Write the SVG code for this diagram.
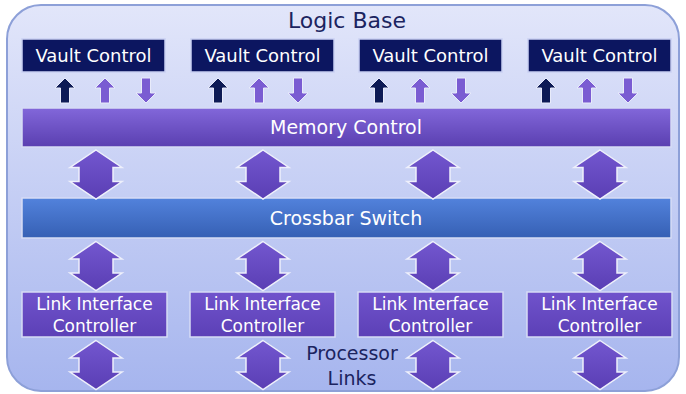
<svg xmlns="http://www.w3.org/2000/svg" width="686" height="394" viewBox="0 0 686 394">
<defs>
<linearGradient id="bg" x1="0" y1="0" x2="0" y2="1">
<stop offset="0" stop-color="#e2e6fa"/>
<stop offset="1" stop-color="#a6b5ee"/>
</linearGradient>
<linearGradient id="mem" x1="0" y1="0" x2="0" y2="1">
<stop offset="0" stop-color="#8267da"/>
<stop offset="1" stop-color="#5a3fb0"/>
</linearGradient>
<linearGradient id="xbar" x1="0" y1="0" x2="0" y2="1">
<stop offset="0" stop-color="#5282dc"/>
<stop offset="1" stop-color="#3660b4"/>
</linearGradient>
<linearGradient id="lic" x1="0" y1="0" x2="0" y2="1">
<stop offset="0" stop-color="#7053cc"/>
<stop offset="1" stop-color="#5c40b6"/>
</linearGradient>
<linearGradient id="dbl" x1="0" y1="0" x2="0" y2="1">
<stop offset="0" stop-color="#7357cf"/>
<stop offset="1" stop-color="#5a3eb4"/>
</linearGradient>
<path id="dArrow" d="M0,-24.5 L26,-7 L17,-7 L17,7 L26,7 L0,24.5 L-26,7 L-17,7 L-17,-7 L-26,-7 Z"/>
<path id="upArrow" d="M0,0 L10,10 L4.5,10 L4.5,25 L-4.5,25 L-4.5,10 L-10,10 Z"/>
<path id="downArrow" d="M0,25 L10,15 L4.5,15 L4.5,0 L-4.5,0 L-4.5,15 L-10,15 Z"/>
</defs>
<style>
.vault{fill:#0c1660;stroke:#c9d0f2;stroke-width:1.5}
.vtxt{font-family:"DejaVu Sans",Verdana,sans-serif;font-size:18px;fill:#ffffff;text-anchor:middle}
.bar{stroke:#d6dcf5;stroke-width:1.5}
.btxt{font-family:"DejaVu Sans",Verdana,sans-serif;font-size:19px;fill:#ffffff;text-anchor:middle}
.licbox{fill:url(#lic);stroke:#d6dcf5;stroke-width:1.5}
.ltxt{font-family:"DejaVu Sans",Verdana,sans-serif;font-size:17px;fill:#ffffff;text-anchor:middle}
.dark{fill:#0d1a55;stroke:#e8ebfa;stroke-width:1}
.purp{fill:#7a5cd2;stroke:#e8ebfa;stroke-width:1}
.dbl{fill:url(#dbl);stroke:#eef0fb;stroke-width:1.5;stroke-linejoin:miter}
.title{font-family:"DejaVu Sans",Verdana,sans-serif;font-size:22px;fill:#1b2460;text-anchor:middle}
</style>
<rect x="0" y="0" width="686" height="394" fill="#ffffff"/>
<g id="logic-base">
<rect x="7" y="5" width="672" height="386" rx="34" ry="34" fill="url(#bg)" stroke="#8da0d8" stroke-width="2"/>
<text class="title" x="347" y="28">Logic Base</text>
</g>
<g id="vault-1">
<rect class="vault" x="22" y="39" width="143" height="33"/>
<text class="vtxt" x="93.5" y="62">Vault Control</text>
</g>
<g id="vault-2">
<rect class="vault" x="191" y="39" width="143" height="33"/>
<text class="vtxt" x="262.5" y="62">Vault Control</text>
</g>
<g id="vault-3">
<rect class="vault" x="359" y="39" width="143" height="33"/>
<text class="vtxt" x="430.5" y="62">Vault Control</text>
</g>
<g id="vault-4">
<rect class="vault" x="528" y="39" width="143" height="33"/>
<text class="vtxt" x="599.5" y="62">Vault Control</text>
</g>
<g id="memory-control">
<rect class="bar" x="22" y="108" width="649" height="39" fill="url(#mem)"/>
<text class="btxt" x="346" y="134">Memory Control</text>
</g>
<g id="crossbar-switch">
<rect class="bar" x="22" y="198" width="649" height="40" fill="url(#xbar)"/>
<text class="btxt" x="346" y="225">Crossbar Switch</text>
</g>
<g id="lic-1">
<rect class="licbox" x="22" y="292" width="145" height="45"/>
<text class="ltxt" x="94.5" y="310">Link Interface</text>
<text class="ltxt" x="94.5" y="332">Controller</text>
</g>
<g id="lic-2">
<rect class="licbox" x="190" y="292" width="145" height="45"/>
<text class="ltxt" x="262.5" y="310">Link Interface</text>
<text class="ltxt" x="262.5" y="332">Controller</text>
</g>
<g id="lic-3">
<rect class="licbox" x="358" y="292" width="145" height="45"/>
<text class="ltxt" x="430.5" y="310">Link Interface</text>
<text class="ltxt" x="430.5" y="332">Controller</text>
</g>
<g id="lic-4">
<rect class="licbox" x="527" y="292" width="145" height="45"/>
<text class="ltxt" x="599.5" y="310">Link Interface</text>
<text class="ltxt" x="599.5" y="332">Controller</text>
</g>
<g id="processor-links">
<text class="btxt" x="352" y="360" style="fill:#1b2460">Processor</text>
<text class="btxt" x="352" y="385" style="fill:#1b2460">Links</text>
</g>
<g id="connectors">
<use href="#upArrow" class="dark" x="65" y="78"/>
<use href="#upArrow" class="purp" x="105" y="78"/>
<use href="#downArrow" class="purp" x="146" y="78"/>
<use href="#upArrow" class="dark" x="218" y="78"/>
<use href="#upArrow" class="purp" x="259" y="78"/>
<use href="#downArrow" class="purp" x="298" y="78"/>
<use href="#upArrow" class="dark" x="379" y="78"/>
<use href="#upArrow" class="purp" x="420" y="78"/>
<use href="#downArrow" class="purp" x="461" y="78"/>
<use href="#upArrow" class="dark" x="546" y="78"/>
<use href="#upArrow" class="purp" x="587" y="78"/>
<use href="#downArrow" class="purp" x="628" y="78"/>
<use href="#dArrow" class="dbl" x="96" y="174.5"/>
<use href="#dArrow" class="dbl" x="263" y="174.5"/>
<use href="#dArrow" class="dbl" x="433" y="174.5"/>
<use href="#dArrow" class="dbl" x="600" y="174.5"/>
<use href="#dArrow" class="dbl" x="96" y="266"/>
<use href="#dArrow" class="dbl" x="263" y="266"/>
<use href="#dArrow" class="dbl" x="433" y="266"/>
<use href="#dArrow" class="dbl" x="600" y="266"/>
<use href="#dArrow" class="dbl" x="96" y="365"/>
<use href="#dArrow" class="dbl" x="263" y="365"/>
<use href="#dArrow" class="dbl" x="433" y="365"/>
<use href="#dArrow" class="dbl" x="600" y="365"/>
</g>
</svg>
